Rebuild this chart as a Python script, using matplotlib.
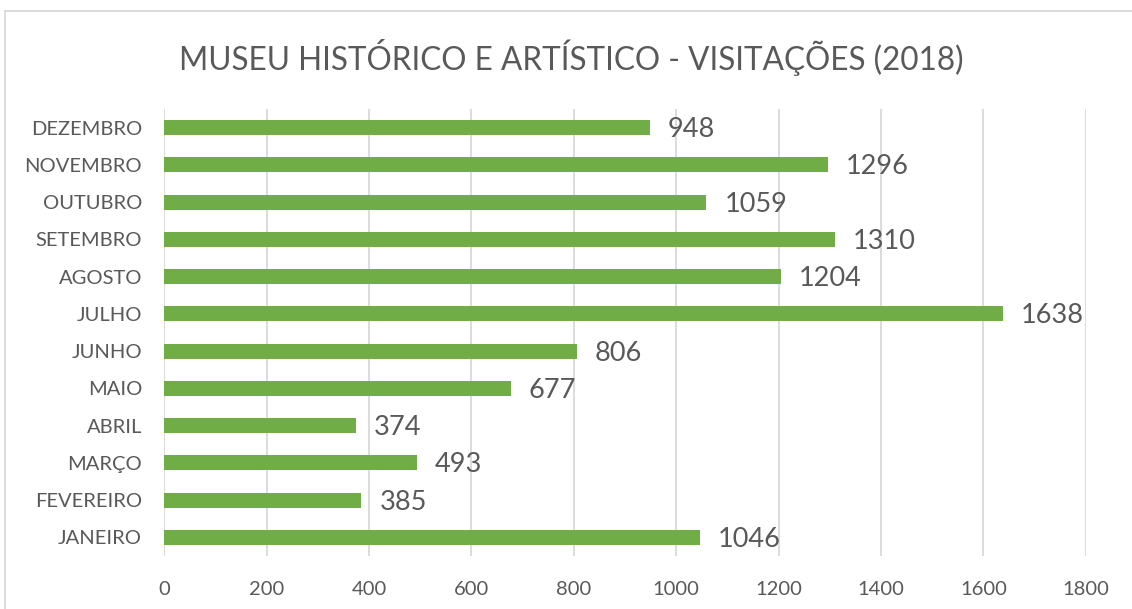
import matplotlib
matplotlib.use("Agg")
import matplotlib.pyplot as plt
from matplotlib.patches import Rectangle

# data
months = ["JANEIRO", "FEVEREIRO", "MARÇO", "ABRIL", "MAIO", "JUNHO",
          "JULHO", "AGOSTO", "SETEMBRO", "OUTUBRO", "NOVEMBRO", "DEZEMBRO"]
visits = [1046, 385, 493, 374, 677, 806, 1638, 1204, 1310, 1059, 1296, 948]
xticks = [0, 200, 400, 600, 800, 1000, 1200, 1400, 1600, 1800]

BAR_C, TXT_C, GRID_C, BORDER_C = "#70ad47", "#595959", "#d9d9d9", "#d9d9d9"

plt.rcParams["font.family"] = ["Lato", "DejaVu Sans"]

W, H = 1132, 609
fig = plt.figure(figsize=(W / 100, H / 100), dpi=100)
ax = fig.add_axes([164.3 / W, 1 - 556 / H, (1085.7 - 164.3) / W, (556 - 109) / H])

y = range(len(months))
ax.barh(y, visits, height=0.4, color=BAR_C, zorder=3)
for yi, v in zip(y, visits):
    ax.annotate(str(v), xy=(v, yi), xytext=(13, -1.5), textcoords="offset points",
                va="center", ha="left", fontsize=19.5, color=TXT_C, zorder=4)

ax.set_xlim(0, 1800)
ax.set_ylim(-0.5, len(months) - 0.5)
ax.set_xticks(xticks)
ax.set_xticklabels([str(t) for t in xticks], fontsize=14.5, color=TXT_C)
ax.set_yticks(list(y))
ax.set_yticklabels(months, fontsize=14.5, color=TXT_C)
ax.tick_params(length=0)
ax.tick_params(axis="y", pad=16)
ax.tick_params(axis="x", pad=18)
ax.xaxis.grid(True, color=GRID_C, lw=1.3)
ax.set_axisbelow(True)
for sp in ax.spines.values():
    sp.set_visible(False)

fig.text(0.505, 1 - 57 / H, "MUSEU HISTÓRICO E ARTÍSTICO - VISITAÇÕES (2018)",
         ha="center", va="center", fontsize=22.7, color=TXT_C)

# chart border (only left and top visible in the crop)
fig.patches.append(Rectangle((5 / W, -0.1), 1.2, 1 - 11 / H + 0.1,
                             transform=fig.transFigure, fill=False,
                             edgecolor=BORDER_C, lw=1.3))

fig.savefig("out.png", dpi=100)
